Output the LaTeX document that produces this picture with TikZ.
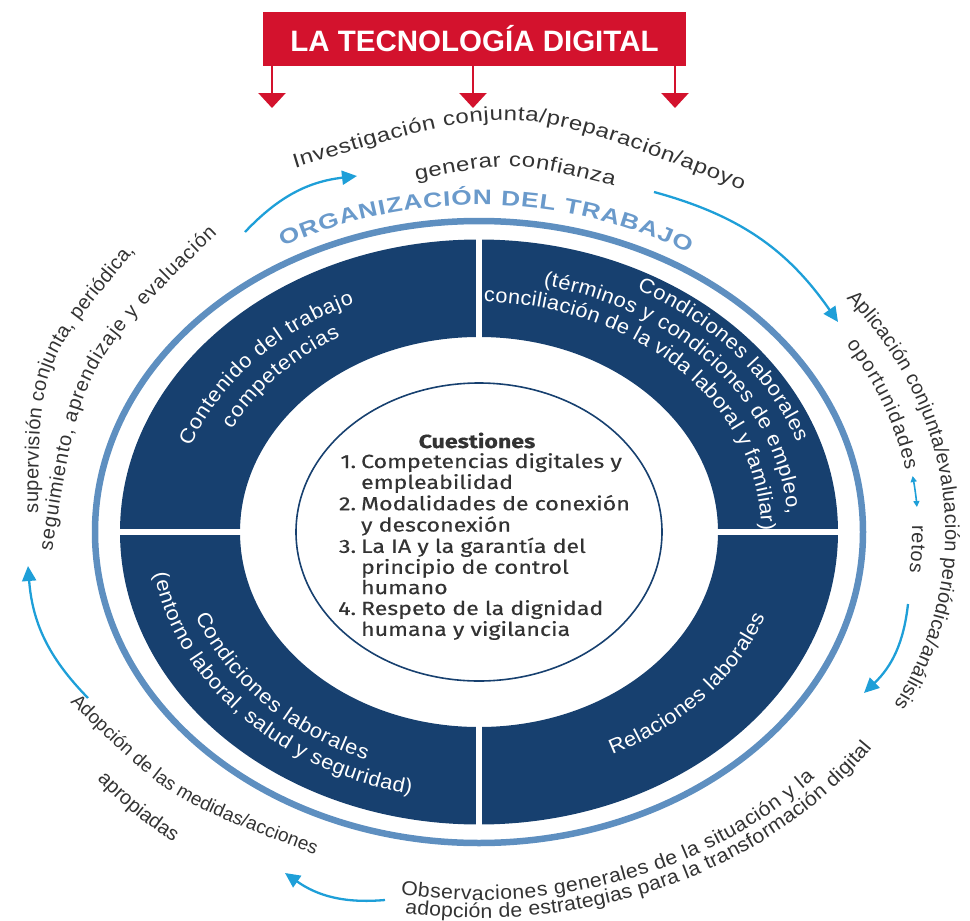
\documentclass[tikz,border=0pt]{standalone}
\usepackage{fontspec}
\setmainfont{Liberation Sans}
\newfontfamily\wideout{Liberation Sans}[FakeStretch=1.2]
\newfontfamily\midout{Liberation Sans}[FakeStretch=1.06]
\newfontfamily\quadfont{Liberation Sans}[FakeStretch=1.06]
\newfontfamily\orgfont{Liberation Sans}[FakeStretch=1.25]
\newfontfamily\qfont{Fira Sans}[FakeStretch=1.22,FakeBold=0.4]
\usepackage{tikz}
\usetikzlibrary{arrows.meta,decorations.text}

\definecolor{techred}{HTML}{D3122D}
\definecolor{darkband}{HTML}{17406F}
\definecolor{ringblue}{HTML}{5E8FC0}
\definecolor{orgblue}{HTML}{6A9ACB}
\definecolor{cyanarrow}{HTML}{1E9FD8}
\definecolor{textgray}{HTML}{333333}

\tikzset{
  redarrow/.style={techred, line width=2.6pt, -{Triangle[length=15pt,width=27pt]}},
  cycarrow/.style={cyanarrow, line width=2.3pt, -{Triangle[length=15pt,width=14pt]}, bend left=20},
  toptext/.style={decorate, decoration={text along path, text align=fit to path,
    text color=textgray, text={|\wideout\fontsize{20}{22}\selectfont|#1}}},
  slanttext/.style={decorate, decoration={text along path, text align=fit to path,
    text color=textgray, text={|\midout\fontsize{20}{22}\selectfont|#1}}},
  sidetext/.style={decorate, decoration={text along path, text align=fit to path,
    text color=textgray, text={|\fontsize{20}{22}\selectfont|#1}}},
  quadtext/.style={decorate, decoration={text along path, text align=fit to path,
    text color=white, text={|\quadfont\fontsize{20.5}{24}\selectfont|#1}}},
  qtext/.style={font=\qfont\fontsize{19}{20.3}\selectfont, text=textgray, inner sep=0pt}
}

\begin{document}
\begin{tikzpicture}[x=1pt,y=1pt]
\useasboundingbox (0,0) rectangle (970,-921);

% header and the three arrows
\node[fill=techred, text=white, minimum width=423pt, minimum height=54pt, inner sep=0pt,
  font=\fontsize{29.5}{30}\selectfont\bfseries] (tech) at (474.5,-39) {LA TECNOLOGÍA DIGITAL};
\coordinate (d1) at (272,-108);
\coordinate (d2) at (473,-108);
\coordinate (d3) at (675,-108);
\draw[redarrow] (tech.south -| d1) -- (d1);
\draw[redarrow] (tech.south -| d2) -- (d2);
\draw[redarrow] (tech.south -| d3) -- (d3);

\begin{scope}[shift={(479,-532)}]
\coordinate (oc) at (0,0);
% band of four quarters
\fill[darkband, even odd rule] (oc) ellipse[x radius=359, y radius=292.5]
  (oc) ellipse[x radius=239, y radius=195];
\draw[white, line width=6pt] (-362,0) -- (362,0) (0,-296) -- (0,296);
\draw[darkband, line width=1.6pt] (oc) ellipse[x radius=183, y radius=149];
\draw[ringblue, line width=6.5pt] (oc) ellipse[x radius=384, y radius=311];

\path[decorate, decoration={text along path, text align=fit to path, text color=orgblue,
  text={|\orgfont\fontsize{21}{24}\selectfont\bfseries|ORGANIZACIÓN DEL TRABAJO}}]
  (119.3:401 and 327) arc[start angle=119.3, end angle=58.5, x radius=401, y radius=327];

% texts of the quarters
\path[quadtext={Contenido del trabajo}]
  (160:306.8 and 250) arc[start angle=160, end angle=114, x radius=306.8, y radius=250];
\path[quadtext={competencias}]
  (153:277.3 and 226) arc[start angle=153, end angle=120, x radius=277.3, y radius=226];
\path[quadtext={Condiciones laborales}]
  (62:336.2 and 274) arc[start angle=62, end angle=19, x radius=336.2, y radius=274];
\path[quadtext={(términos y condiciones de empleo,}]
  (78:309.2 and 252) arc[start angle=78, end angle=4, x radius=309.2, y radius=252];
\path[quadtext={conciliación de la vida laboral y familiar)}]
  (89:282.2 and 230) arc[start angle=89, end angle=0.5, x radius=282.2, y radius=230];
\path[quadtext={Condiciones laborales}]
  (200:301.8 and 246) arc[start angle=200, end angle=248, x radius=301.8, y radius=246];
\path[quadtext={(entorno laboral, salud y seguridad)}]
  (189:328.8 and 268) arc[start angle=189, end angle=258, x radius=328.8, y radius=268];
\path[quadtext={Relaciones laborales}]
  (296:304.3 and 248) arc[start angle=296, end angle=340, x radius=304.3, y radius=248];

% texts round the ring
\path[sidetext={Aplicación conjunta/evaluación periódica/análisis}]
  (38:466.3 and 380) arc[start angle=38, end angle=-27, x radius=466.3, y radius=380];
\path[sidetext={oportunidades}]
  (32:433.1 and 353) arc[start angle=32, end angle=10, x radius=433.1, y radius=353];
\path[sidetext={retos}]
  (1:433.1 and 353) arc[start angle=1, end angle=-6.5, x radius=433.1, y radius=353];
\draw[cyanarrow, line width=1.6pt, {Triangle[length=6pt,width=6pt]}-{Triangle[length=6pt,width=6pt]}]
  (9:439 and 358) arc[start angle=9, end angle=4, x radius=439, y radius=358];
\path[slanttext={Observaciones generales de la situación y la}]
  (260:451.5 and 368) arc[start angle=260, end angle=318, x radius=451.5, y radius=368];
\path[slanttext={adopción de estrategias para la transformación digital}]
  (261:473.6 and 386) arc[start angle=261, end angle=326, x radius=473.6, y radius=386];
\path[sidetext={apropiadas}]
  (218.5:488 and 398) arc[start angle=218.5, end angle=231, x radius=488, y radius=398];
\end{scope}

\path[toptext={Investigación conjunta/preparación/apoyo}]
  (295,-168) .. controls (515.5,-101) .. (742,-190);
\path[toptext={generar confianza}]
  (416,-180) .. controls (515,-161) .. (614,-186);
\path[sidetext={supervisión conjunta, periódica,}]
  (38,-513) .. controls (39.5,-364) .. (135,-251);
\path[sidetext={seguimiento, aprendizaje y evaluación}]
  (52,-551) .. controls (81.5,-365.5) .. (217,-234);
\path[decorate, decoration={text along path, text align=fit to path, text color=textgray,
  text={|\fontsize{19}{22}\selectfont|Adopción de las medidas/acciones}}]
  (70,-702) .. controls (170,-800) .. (314,-854);

% cycle arrows
\coordinate (a1s) at (245,-232);
\coordinate (a1e) at (357,-176);
\coordinate (a2s) at (654,-192);
\coordinate (a2e) at (838,-322);
\coordinate (a3s) at (908,-604);
\coordinate (a3e) at (864,-693);
\coordinate (a4s) at (385,-900);
\coordinate (a4e) at (285,-873);
\coordinate (a5s) at (88,-698);
\coordinate (a5e) at (28,-566);
\draw[cycarrow] (a1s) to (a1e);
\draw[cycarrow] (a2s) to (a2e);
\draw[cycarrow] (a3s) to (a3e);
\draw[cycarrow] (a4s) to (a4e);
\draw[cycarrow] (a5s) to (a5e);

% questions in the middle
\node[qtext, font=\qfont\fontsize{19}{20.3}\selectfont\bfseries, anchor=base] (qhead) at (477,-448) {Cuestiones};
\node[qtext, anchor=base west] (qlist) at (338,-468) {\begin{tabular}[t]{@{}r@{\hspace{5pt}}l@{}}
1. & Competencias digitales y\\
   & empleabilidad\\
2. & Modalidades de conexión\\
   & y desconexión\\
3. & La IA y la garantía del\\
   & principio de control\\
   & humano\\
4. & Respeto de la dignidad\\
   & humana y vigilancia
\end{tabular}};

\end{tikzpicture}
\end{document}
